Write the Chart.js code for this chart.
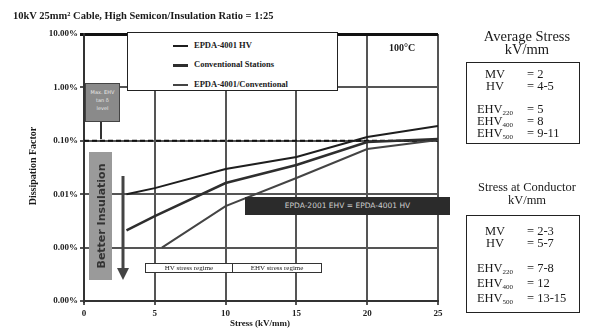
<!DOCTYPE html>
<html>
<head>
<meta charset="utf-8">
<script src="https://cdn.jsdelivr.net/npm/chart.js@4.4.1/dist/chart.umd.min.js"></script>
<style>
  html, body { margin: 0; padding: 0; background: #fff; }
  #wrap { position: relative; width: 590px; height: 332px; overflow: hidden; font-family: "Liberation Serif", "DejaVu Serif", serif; color: #1a1a1a; }
  #c { position: absolute; left: 0; top: 0; }
  .abs { position: absolute; white-space: nowrap; }
  .title { left: 13px; top: 10px; font-size: 10.5px; font-weight: bold; }
  .ytitle { left: 32px; top: 166px; font-size: 10px; font-weight: bold; transform: translate(-50%, -50%) rotate(-90deg); }
  .xtitle { left: 260px; top: 323px; font-size: 9px; font-weight: bold; transform: translate(-50%, -50%); }
  .legend { left: 127px; top: 32px; width: 209px; height: 57px; border: 1px solid #222; background: #fff; font-size: 8.5px; font-weight: bold; }
  .legend .row { position: absolute; left: 45px; height: 10px; line-height: 10px; }
  .legend .row i { display: inline-block; width: 15px; vertical-align: middle; margin-right: 6px; }
  .temp { left: 402px; top: 47px; font-size: 10px; font-weight: bold; transform: translate(-50%, -50%); }
  .maxbox { left: 85px; top: 83px; width: 35px; height: 39px; background: #8a8a8a; border: 1px solid #444; box-sizing: border-box; font-family: "DejaVu Sans", sans-serif; font-size: 5px; color: #e8e8e8; text-align: center; line-height: 8px; padding-top: 4px; }
  .stem { left: 100px; top: 122px; width: 2px; height: 17px; background: #333; }
  .better { left: 89px; top: 152px; width: 23px; height: 128px; background: #9a9a9a; }
  .better span { position: absolute; left: 50%; top: 50%; transform: translate(-50%, -50%) rotate(-90deg); font-family: "DejaVu Sans", sans-serif; font-size: 11px; font-weight: bold; color: #333; }
  .darkbox { left: 245px; top: 197px; width: 205px; height: 18px; background: #2b2b2b; color: #cfcfcf; font-family: "DejaVu Sans", sans-serif; font-size: 7.5px; text-align: center; line-height: 18px; }
  .regime { left: 145px; top: 263px; width: 177px; height: 10px; border: 1px solid #333; background: #fff; box-sizing: border-box; font-size: 7px; line-height: 8px; }
  .regime span { position: absolute; top: 0; text-align: center; }
  .regime .sep { position: absolute; left: 86px; top: 0; width: 1px; height: 8px; background: #333; }
  .phead { left: 527px; font-size: 14.5px; transform: translateX(-50%); text-align: center; line-height: 13px; }
  .pbox { left: 466px; width: 114px; border: 1.5px solid #222; box-sizing: border-box; font-size: 12.5px; }
  .pbox .lab { position: absolute; left: 3px; width: 50px; text-align: center; line-height: 12px; }
  .pbox .val { position: absolute; left: 60px; line-height: 12px; }
  sub { font-size: 7px; vertical-align: -2px; }
</style>
</head>
<body>
<div id="wrap">
  <canvas id="c" width="590" height="332"></canvas>

  <div class="abs title">10kV 25mm² Cable, High Semicon/Insulation Ratio = 1:25</div>
  <div class="abs ytitle">Dissipation Factor</div>
  <div class="abs xtitle">Stress (kV/mm)</div>

  <div class="abs legend" id="legend"></div>
  <div class="abs temp">100°C</div>

  <div class="abs maxbox">Max. EHV<br>tan δ<br>level</div>
  <div class="abs stem"></div>
  <div class="abs better"><span>Better Insulation</span></div>
  <svg class="abs" style="left:116px;top:174px" width="14" height="110">
    <line x1="7" y1="2" x2="7" y2="96" stroke="#444" stroke-width="3"/>
    <polygon points="1,94 13,94 7,106" fill="#444"/>
  </svg>
  <div class="abs darkbox">EPDA-2001 EHV = EPDA-4001 HV</div>
  <div class="abs regime">
    <span style="left:0;width:86px">HV stress regime</span>
    <div class="sep"></div>
    <span style="left:87px;width:88px">EHV stress regime</span>
  </div>

  <div class="abs phead" style="top:30px">Average Stress<br>kV/mm</div>
  <div class="abs pbox" style="top:62px;height:82px">
    <div class="lab" style="top:5px">MV</div><div class="val" style="top:5px">= 2</div>
    <div class="lab" style="top:17px">HV</div><div class="val" style="top:17px">= 4-5</div>
    <div class="lab" style="top:40px">EHV<sub>220</sub></div><div class="val" style="top:40px">= 5</div>
    <div class="lab" style="top:52px">EHV<sub>400</sub></div><div class="val" style="top:52px">= 8</div>
    <div class="lab" style="top:64px">EHV<sub>500</sub></div><div class="val" style="top:64px">= 9-11</div>
  </div>

  <div class="abs phead" style="top:181px;font-size:12.5px">Stress at Conductor<br>kV/mm</div>
  <div class="abs pbox" style="top:215px;height:98px">
    <div class="lab" style="top:9px">MV</div><div class="val" style="top:9px">= 2-3</div>
    <div class="lab" style="top:21px">HV</div><div class="val" style="top:21px">= 5-7</div>
    <div class="lab" style="top:46px">EHV<sub>220</sub></div><div class="val" style="top:46px">= 7-8</div>
    <div class="lab" style="top:61px">EHV<sub>400</sub></div><div class="val" style="top:61px">= 12</div>
    <div class="lab" style="top:76px">EHV<sub>500</sub></div><div class="val" style="top:76px">= 13-15</div>
  </div>
</div>

<script>
// Stress values (kV/mm) and dissipation factor (%) for each cable system
const stressAB = [3, 5, 10, 15, 20, 25];
const stressC = [5.5, 10, 15, 20, 25];
const epdaHV = [0.0100, 0.0130, 0.0296, 0.0497, 0.118, 0.189];
const conventional = [0.0021, 0.0039, 0.0162, 0.0352, 0.095, 0.108];
const epdaConv = [0.0010, 0.0060, 0.0201, 0.070, 0.103];
const seriesNames = ['EPDA-4001 HV', 'Conventional Stations', 'EPDA-4001/Conventional'];
const seriesColors = ['#1e1e1e', '#2e2e2e', '#444444'];
const seriesWidths = [2, 2.5, 2];

// Max tan δ reference level (%)
const refLevel = 0.1;

// Axis ticks
const xTicks = [0, 5, 10, 15, 20, 25];
const yTicks = [10, 1, 0.1, 0.01, 0.001, 0.0001];
const yTickLabels = ['10.00%', '1.00%', '0.10%', '0.01%', '0.00%', '0.00%'];

const toPts = (xs, ys) => xs.map((x, i) => ({ x: x, y: ys[i] }));

// Legend (HTML)
const legend = document.getElementById('legend');
const rowTops = [7, 26, 46];
seriesNames.forEach((n, i) => {
  const r = document.createElement('div');
  r.className = 'row';
  r.style.top = rowTops[i] + 'px';
  r.innerHTML = '<i style="border-top:' + (seriesWidths[i] + 0.5) + 'px solid ' + seriesColors[i] + '"></i>' + n;
  legend.appendChild(r);
});

const tickFont = { family: '"Liberation Serif", serif', size: 9, weight: 'bold' };

new Chart(document.getElementById('c'), {
  type: 'scatter',
  data: {
    datasets: [
      { label: seriesNames[0], data: toPts(stressAB, epdaHV), borderColor: seriesColors[0], borderWidth: seriesWidths[0] },
      { label: seriesNames[1], data: toPts(stressAB, conventional), borderColor: seriesColors[1], borderWidth: seriesWidths[1] },
      { label: seriesNames[2], data: toPts(stressC, epdaConv), borderColor: seriesColors[2], borderWidth: seriesWidths[2] },
      { label: 'Max level', data: [{ x: xTicks[0], y: refLevel }, { x: xTicks[xTicks.length - 1], y: refLevel }],
        borderColor: '#111', borderWidth: 2, borderDash: [5, 3] }
    ].map(d => Object.assign({ showLine: true, pointRadius: 0, tension: 0, fill: false }, d))
  },
  options: {
    responsive: false,
    animation: false,
    devicePixelRatio: 1,
    layout: { padding: { left: 0, right: 152, top: 34, bottom: 0 } },
    plugins: { legend: { display: false }, tooltip: { enabled: false } },
    scales: {
      x: {
        type: 'linear', min: 0, max: 25,
        afterBuildTicks: a => { a.ticks = xTicks.map(v => ({ value: v })); },
        afterFit: a => { a.height = 31; },
        ticks: { font: tickFont, color: '#222', padding: 3 },
        grid: { color: '#555', lineWidth: 2, tickLength: 4 },
        border: { color: '#333', width: 2 }
      },
      y: {
        type: 'logarithmic', min: 0.0001, max: 10,
        afterBuildTicks: a => { a.ticks = yTicks.map(v => ({ value: v })); },
        afterFit: a => { a.width = 84; },
        ticks: { font: tickFont, color: '#222', padding: 2, callback: (v, i) => yTickLabels[i] },
        grid: {
          color: c => (c.tick && c.tick.value === 10) ? '#111' : '#555',
          lineWidth: c => (c.tick && c.tick.value === 10) ? 3 : 2,
          tickLength: 4
        },
        border: { color: '#333', width: 2 }
      }
    }
  }
});
</script>
</body>
</html>
